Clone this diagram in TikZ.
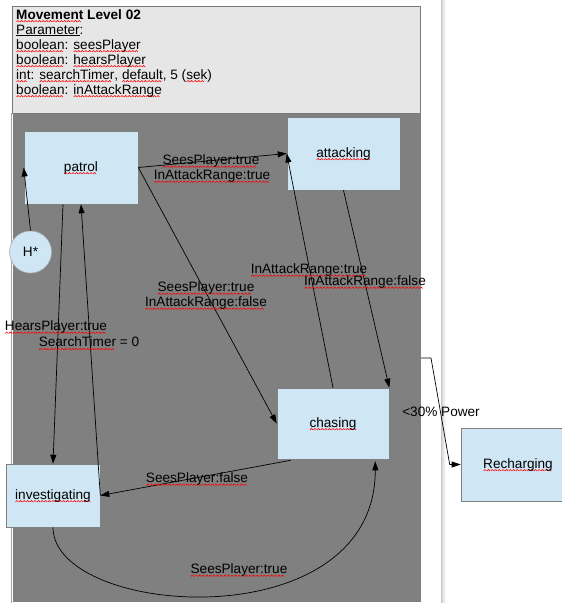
\documentclass[tikz,border=0pt]{standalone}
\usepackage{fontspec}
\setmainfont{Liberation Sans}
\usetikzlibrary{arrows.meta,calc}

% spell-check style wavy red underline, built from a repeated zigzag tile
\newsavebox\zzbox
\newsavebox\sqword
\newcommand\sq[1]{\sbox\sqword{#1}\rlap{\raisebox{-3.2pt}[0pt][0pt]{\hbox to\wd\sqword{\leaders\copy\zzbox\hfill}}}\usebox\sqword}
\newcommand\txt{\fontsize{13.6}{15}\selectfont}

\definecolor{boxblue}{HTML}{CFE6F4}
\definecolor{areagray}{HTML}{808080}
\definecolor{headfill}{HTML}{E6E6E6}
\definecolor{edgegray}{HTML}{7A7A7A}

\tikzset{
  statebox/.style={draw=areagray, line width=0.6pt, fill=boxblue, inner sep=0pt, font=\txt},
  lbl/.style={inner sep=0pt, font=\txt},
  headline/.style={inner sep=0pt, anchor=base west, font=\txt},
  arr/.style={draw=black, line width=0.7pt, -{Triangle[length=9pt,width=6pt]}},
}

\begin{document}
\sbox\zzbox{\begin{pgfpicture}%
  \pgfpathmoveto{\pgfpoint{0pt}{0pt}}%
  \pgfpathlineto{\pgfpoint{1.5pt}{1.4pt}}%
  \pgfpathlineto{\pgfpoint{3pt}{0pt}}%
  \pgfsetlinewidth{0.6pt}%
  \pgfsetstrokecolor{red}%
  \pgfusepath{stroke}%
\end{pgfpicture}}%
\begin{tikzpicture}[x=1pt,y=-1pt]
\useasboundingbox (0,0) rectangle (562,603);
\fill[white] (0,0) rectangle (562,603);

% page edge with soft shadow
\foreach \i/\c in {0/78,1/85,2/90,3/94,4/97}{
  \fill[black!\the\numexpr 100-\c\relax] (441+\i,0) rectangle (442+\i,603);
}

% thin page border on the left
\draw[line width=0.8pt, black!35] (11,113) -- (11,603);

% diagram area
\fill[areagray] (12.8,113) rectangle (421,601.5);

% header box with parameters
\draw[draw=edgegray, fill=headfill, line width=0.8pt] (12,6.5) rectangle (420.5,113);
\node[headline, font=\txt\bfseries] (title) at (16,19) {\sq{Movement} Level 02};
\node[headline] (par) at (16,34) {\underline{Parameter}:};
\node[headline] (p1) at (16,49) {\sq{boolean}: \sq{seesPlayer}};
\node[headline] (p2) at (16,64) {\sq{boolean}: \sq{hearsPlayer}};
\node[headline] (p3) at (16,79) {\sq{int}: \sq{searchTimer}, \sq{default}, 5 (\sq{sek})};
\node[headline] (p4) at (16,94) {\sq{boolean}: \sq{inAttackRange}};

% states
\node[statebox, minimum width=114pt, minimum height=73pt] (patrol) at (81,167.5) {\sq{patrol}};
\node[statebox, minimum width=113pt, minimum height=73pt] (attacking) at (343.5,153.5) {\sq{attacking}};
\node[statebox, minimum width=112pt, minimum height=71pt] (chasing) at (333,423.5) {\sq{chasing}};
\node[statebox, minimum width=94pt, minimum height=63pt] (investigating) at (53,495.5) {\sq{investigating}};
\node[statebox, minimum width=114pt, minimum height=73pt] (recharging) at (518,464.5) {\sq{Recharging}};
\node[circle, draw=black!30, line width=0.6pt, fill=boxblue, minimum size=42pt, inner sep=0pt, font=\txt] (hist) at (30.5,252) {H*};

% transitions
\draw[arr] (hist.north) -- (patrol.west);
\draw[arr] (patrol.east) -- (attacking.west);
\draw[arr] (patrol.east) -- (chasing.west);
\draw[arr] (chasing.north) -- (attacking.west);
\draw[arr] (attacking.south) -- (chasing.north east);
\draw[arr] ($(patrol.south)+(-18,0)$) -- (investigating.north);
\draw[arr] (investigating.east) -- (patrol.south);
\draw[arr] ($(chasing.south west)+(14,1)$) -- (investigating.east);
\draw[arr] (investigating.south) .. controls +(0,90) and +(0,180) .. ($(chasing.south east)+(-14,2)$);

% power transition leaving the area
\coordinate (pw) at (421,358);
\draw[arr] (pw) -- ++(10,0) -- ($(recharging.west)+(-11,0)$) -- (recharging.west);

% transition labels
\node[lbl] (l1a) at (211,161) {\sq{SeesPlayer:true}};
\node[lbl] (l1b) at (212,176) {\sq{InAttackRange:true}};
\node[lbl] (l2a) at (206,288) {\sq{SeesPlayer:true}};
\node[lbl] (l2b) at (206,303) {\sq{InAttackRange:false}};
\node[lbl] (l3) at (309,270) {\sq{InAttackRange:true}};
\node[lbl] (l4) at (365,282) {\sq{InAttackRange:false}};
\node[lbl] (l5a) at (56,327) {\sq{HearsPlayer:true}};
\node[lbl] (l5b) at (89,342) {\sq{SearchTimer} = 0};
\node[lbl] (l6) at (197,479) {\sq{SeesPlayer:false}};
\node[lbl] (l7) at (239,570) {\sq{SeesPlayer:true}};
\node[lbl] (l8) at (441,412) {<30\% Power};
\end{tikzpicture}
\end{document}
